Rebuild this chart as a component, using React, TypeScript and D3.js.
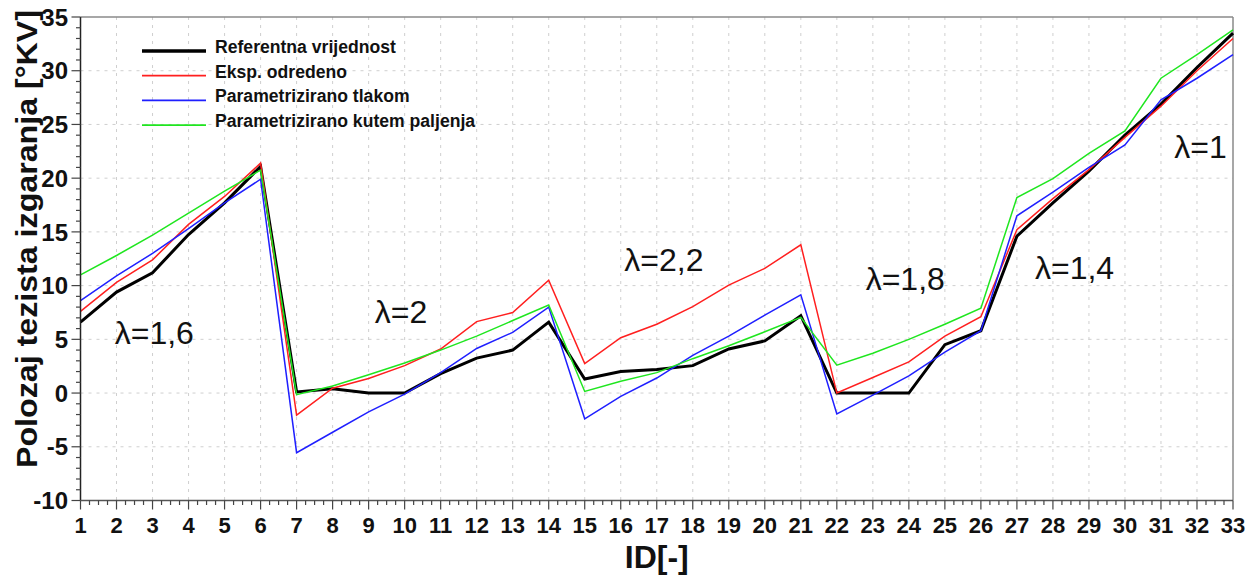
import React from "react";
import * as d3 from "d3";

const ids = d3.range(1, 34);
const referentna = [6.6, 9.4, 11.2, 14.75, 17.7, 21.1, 0.1, 0.4, 0.0, 0.0, 1.8, 3.25, 4.0, 6.6, 1.3, 2.0, 2.2, 2.55, 4.1, 4.85, 7.2, 0.0, 0.0, 0.0, 4.5, 5.8, 14.6, 17.7, 20.65, 24.0, 26.9, 30.3, 33.5];
const eksp = [7.6, 10.3, 12.4, 15.7, 18.3, 21.4, -2.05, 0.45, 1.35, 2.55, 4.1, 6.65, 7.5, 10.5, 2.75, 5.15, 6.4, 8.05, 10.05, 11.6, 13.8, 0.0, 1.45, 2.9, 5.3, 7.1, 15.2, 18.1, 20.8, 23.8, 26.7, 30.0, 33.0];
const tlakom = [8.6, 10.9, 13.0, 15.3, 17.7, 19.9, -5.55, -3.65, -1.75, -0.1, 1.9, 4.15, 5.65, 8.0, -2.4, -0.3, 1.4, 3.5, 5.3, 7.25, 9.15, -1.95, -0.2, 1.6, 3.8, 5.8, 16.5, 18.7, 21.0, 23.1, 27.3, 29.3, 31.5];
const kutem = [11.0, 12.8, 14.7, 16.75, 18.8, 20.75, -0.15, 0.65, 1.7, 2.8, 4.0, 5.3, 6.75, 8.2, 0.15, 1.1, 1.9, 3.2, 4.4, 5.7, 7.05, 2.6, 3.7, 5.0, 6.4, 7.9, 18.2, 19.95, 22.3, 24.4, 29.3, 31.5, 33.8];

const seriesNames = ["Referentna vrijednost", "Eksp. odredeno", "Parametrizirano tlakom", "Parametrizirano kutem paljenja"];
const seriesValues = [referentna, eksp, tlakom, kutem];
const seriesColors = ["#000000", "#ff1f1f", "#1f1fff", "#1fe61f"];
const seriesWidths = [3, 1.5, 1.5, 1.5];

const yTicks = [-10, -5, 0, 5, 10, 15, 20, 25, 30, 35];
const lambdaLabels = ["λ=1,6", "λ=2", "λ=2,2", "λ=1,8", "λ=1,4", "λ=1"];
const lambdaX = [3.05, 9.9, 17.2, 23.9, 28.6, 32.1];
const lambdaY = [4.6, 6.5, 11.4, 9.6, 10.6, 21.9];

const W = 1260;
const H = 578;
const left = 80.5;
const right = 1233;
const top = 17;
const bottom = 500.5;
const FONT = "'Liberation Sans', Arial, sans-serif";

export default function App() {
  const x = d3.scaleLinear().domain([1, 33]).range([left, right]);
  const y = d3.scaleLinear().domain([-10, 35]).range([bottom, top]);
  const line = d3
    .line<number>()
    .x((_, i) => x(ids[i]))
    .y((d) => y(d));

  const xMinor = d3.range(1, 33.001, 0.25).filter((v) => Math.abs(v - Math.round(v)) > 1e-6);
  const yMinor = d3.range(-10, 35.001, 1).filter((v) => v % 5 !== 0);

  return (
    <svg width={W} height={H} style={{ position: "absolute", left: 0, top: 0, background: "#fff" }} fontFamily={FONT}>
      <rect x={0} y={0} width={W} height={H} fill="#fff" />
      {/* grid */}
      <g stroke="#cfcfcf" strokeWidth={1} strokeDasharray="3,5">
        {ids.slice(1, -1).map((v) => (
          <line key={"gx" + v} x1={x(v)} x2={x(v)} y1={top} y2={bottom} />
        ))}
        {yTicks.slice(1, -1).map((v) => (
          <line key={"gy" + v} x1={left} x2={right} y1={y(v)} y2={y(v)} />
        ))}
      </g>
      {/* frame */}
      <line x1={left} x2={right} y1={top} y2={top} stroke="#8a8a8a" strokeWidth={1.5} />
      <line x1={right} x2={right} y1={top} y2={bottom} stroke="#8a8a8a" strokeWidth={1.5} />
      {/* series */}
      {seriesValues.map((vals, i) => (
        <path key={"s" + i} d={line(vals) || ""} fill="none" stroke={seriesColors[i]} strokeWidth={seriesWidths[i]} strokeLinejoin="miter" />
      ))}
      {/* axes */}
      <line x1={left} x2={left} y1={top} y2={bottom} stroke="#222" strokeWidth={1.5} />
      <line x1={left} x2={right} y1={bottom} y2={bottom} stroke="#555" strokeWidth={1.5} />
      <g stroke="#444" strokeWidth={1.2}>
        {ids.map((v) => (
          <line key={"xt" + v} x1={x(v)} x2={x(v)} y1={bottom} y2={bottom + 9} />
        ))}
        {xMinor.map((v) => (
          <line key={"xm" + v} x1={x(v)} x2={x(v)} y1={bottom} y2={bottom + 4.5} />
        ))}
        {yTicks.map((v) => (
          <line key={"yt" + v} x1={left - 9} x2={left} y1={y(v)} y2={y(v)} />
        ))}
        {yMinor.map((v) => (
          <line key={"ym" + v} x1={left - 4.5} x2={left} y1={y(v)} y2={y(v)} />
        ))}
      </g>
      <g fontWeight="bold" fill="#111">
        {ids.map((v) => (
          <text key={"xl" + v} x={x(v)} y={533} textAnchor="middle" fontSize={22}>
            {v}
          </text>
        ))}
        {yTicks.map((v) => (
          <text key={"yl" + v} x={68} y={y(v)} dy="0.36em" textAnchor="end" fontSize={24}>
            {v}
          </text>
        ))}
      </g>
      <text x={(left + right) / 2} y={568} textAnchor="middle" fontSize={32} fontWeight="bold" fill="#111">
        ID[-]
      </text>
      <text
        transform={`translate(37,239) rotate(-90)`}
        textAnchor="middle"
        fontSize={30}
        fontWeight="bold"
        fill="#111"
        textLength={458}
        lengthAdjust="spacingAndGlyphs"
      >
        Polozaj tezista izgaranja [°KV]
      </text>
      {/* lambda labels */}
      <g fontSize={32} fill="#111">
        {lambdaLabels.map((t, i) => (
          <text key={"lam" + i} x={x(lambdaX[i])} y={y(lambdaY[i])} textAnchor="middle">
            {t}
          </text>
        ))}
      </g>
      {/* legend */}
      <g>
        {seriesNames.map((n, i) => (
          <g key={"lg" + i} transform={`translate(0,${51 + i * 24.7})`}>
            <line x1={142} x2={206} y1={0} y2={0} stroke={seriesColors[i]} strokeWidth={seriesWidths[i] === 3 ? 3.5 : 1.8} />
            <text x={215} y={2} fontSize={17.6} fontWeight="bold" fill="#111">
              {n}
            </text>
          </g>
        ))}
      </g>
    </svg>
  );
}
